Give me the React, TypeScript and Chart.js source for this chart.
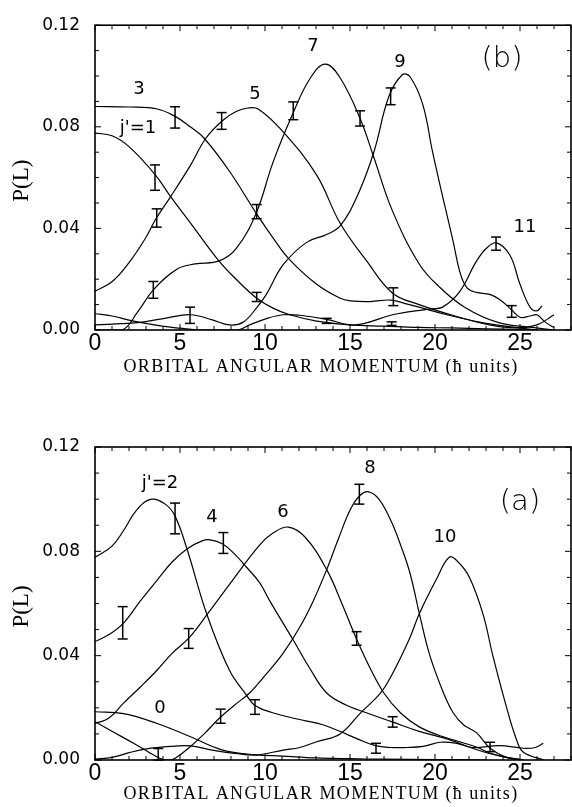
import React, { useEffect, useRef } from 'react';
import { Chart, registerables } from 'chart.js';
Chart.register(...registerables);

type Pt = [number, number];
type Err = [number, number, number];
type Lbl = [number, number, string];

const X_TICKS = [0, 5, 10, 15, 20, 25];
const Y_TICKS = [0, 0.04, 0.08, 0.12];
const X_MAX = 28;
const Y_MAX = 0.12;
const X_TITLE = 'ORBITAL ANGULAR MOMENTUM (\u0127 units)';
const Y_TITLE = 'P(L)';

// ---------- panel (b): odd j' ----------
const b_j1: Pt[] = [[0,0.0775],[1,0.0765],[2,0.0722],[3.56,0.061],[4.45,0.0525],[5.63,0.042],[7.31,0.027],[8.3,0.020],[9.48,0.0127],[10.5,0.0085],[11.46,0.006],[13.04,0.0035],[15,0.002],[17,0.0015],[19,0.001],[21,0.0008],[23,0.0005],[25,0.0002],[26,0]];
const b_j3: Pt[] = [[0,0.088],[2,0.0878],[3.66,0.087],[4.74,0.084],[5.6,0.080],[6.42,0.0755],[7.9,0.0626],[9.48,0.046],[10.5,0.036],[11.46,0.0276],[13.04,0.018],[14.42,0.0125],[15.02,0.0115],[16.2,0.0112],[17.39,0.0118],[18.2,0.0105],[19.07,0.009],[20.7,0.006],[22.7,0.003],[24.7,0.001],[26,0]];
const b_j5: Pt[] = [[0,0.0153],[1,0.019],[2,0.0265],[3,0.0365],[3.56,0.0435],[4.45,0.0525],[5.63,0.065],[6.52,0.0755],[7.51,0.0825],[8.3,0.086],[9.0,0.0874],[9.6,0.087],[11.07,0.078],[13.04,0.061],[14.42,0.042],[16.0,0.027],[17.49,0.0146],[19.07,0.010],[21.44,0.005],[23.2,0.002],[24.7,0.0008],[26,0.002],[27,0.006]];
const b_j7: Pt[] = [[0,0],[1.6,0],[2.5,0.007],[3.46,0.016],[4.84,0.024],[5.9,0.026],[7.31,0.0272],[8.3,0.032],[9.48,0.046],[10.47,0.066],[11.66,0.0855],[12.65,0.099],[13.54,0.1047],[14.4,0.0995],[15.61,0.083],[16.4,0.068],[17.49,0.047],[19.07,0.026],[20.25,0.017],[21.74,0.009],[23.7,0.003],[25.7,0.001],[27,0]];
const b_j9: Pt[] = [[0,0.002],[1.5,0.0025],[2.67,0.003],[4.25,0.0048],[5.63,0.006],[6.9,0.004],[7.9,0.002],[8.7,0.003],[9.48,0.0085],[10.08,0.014],[11.07,0.0257],[12.45,0.0345],[13.63,0.0376],[14.42,0.041],[15.41,0.0525],[16.4,0.070],[17.29,0.092],[18.08,0.1005],[18.53,0.0997],[19.27,0.089],[19.86,0.070],[20.45,0.0525],[21.04,0.0357],[21.5,0.022],[21.9,0.0165],[22.43,0.0148],[23.22,0.014],[23.8,0.012],[24.5,0.008],[25.0,0.005],[25.6,0.0055],[26,0.006],[26.5,0.003],[27,0.001]];
const b_j11: Pt[] = [[0,0.0065],[1,0.0055],[2.27,0.0035],[3.95,0.0015],[5,0.0007],[6.2,0],[8.4,0],[9.09,0.002],[10.08,0.0045],[11.07,0.006],[12.05,0.0058],[13.63,0.0042],[15.02,0.002],[15.8,0.0025],[17.39,0.0058],[18.53,0.0072],[19.76,0.0083],[20.45,0.009],[21.44,0.015],[22.43,0.027],[23.0,0.032],[23.61,0.0343],[24.4,0.0295],[25.0,0.018],[25.59,0.009],[25.98,0.0075],[26.3,0.0095]];
const b_errors: Err[] = [[4.71,0.0837,0.0042],[7.45,0.0823,0.0033],[3.53,0.060,0.005],[3.63,0.0441,0.0036],[3.43,0.0158,0.0033],[5.59,0.0058,0.0032],[9.51,0.0466,0.0028],[9.51,0.013,0.0018],[11.66,0.0863,0.0035],[15.59,0.0833,0.0030],[17.39,0.092,0.0033],[17.55,0.0131,0.0035],[13.63,0.0036,0.001],[17.45,0.0025,0.0007],[23.59,0.034,0.0026],[24.51,0.0073,0.0023]];
const b_labels: Lbl[] = [[2.59,0.0947,'3'],[9.41,0.0928,'5'],[2.53,0.0794,"j'=1"],[12.82,0.1116,'7'],[17.94,0.1054,'9'],[25.29,0.0403,'11']];
const b_tag: Lbl = [23.94, 0.1066, '(b)'];

// ---------- panel (a): even j' ----------
const a_j0: Pt[] = [[0,0.0185],[1.68,0.0178],[3.66,0.014],[5.58,0.009],[7.51,0.0038],[9.48,0.002],[11,0.0015],[13,0.0008],[15,0.0005],[17,0.0003],[20,0.0002],[23,0]];
const a_j2: Pt[] = [[0,0.0777],[1,0.082],[1.68,0.088],[2.47,0.096],[3.33,0.100],[4.15,0.098],[4.71,0.0935],[5.43,0.0805],[6.57,0.056],[7.9,0.0345],[8.9,0.025],[9.39,0.021],[10.4,0.0182],[11.4,0.0165],[12.4,0.015],[13.4,0.0135],[14.4,0.011],[15.4,0.0082],[16.5,0.0055],[17.4,0.0048],[18.3,0.0048],[19.3,0.0052],[20.3,0.0068],[21.2,0.0065],[22.2,0.0048],[23.8,0.0055],[25.2,0.0045],[25.9,0.0048],[26.37,0.0064]];
const a_j4: Pt[] = [[0,0.0454],[0.8,0.048],[1.68,0.0525],[2.67,0.061],[3.66,0.069],[4.55,0.076],[5.43,0.081],[6.3,0.084],[6.77,0.0844],[7.51,0.0828],[8.2,0.079],[8.9,0.074],[9.68,0.068],[10.28,0.061],[11.66,0.046],[12.65,0.035],[13.63,0.0257],[14.8,0.021],[16.0,0.018],[17.49,0.0146],[19.07,0.011],[20.75,0.008],[22.2,0.0045],[23.2,0.0025],[24.2,0.001],[25.2,0]];
const a_j6: Pt[] = [[0,0.014],[0.8,0.016],[1.68,0.0218],[2.67,0.028],[3.66,0.0345],[4.55,0.041],[5.53,0.0468],[6.62,0.056],[8.1,0.069],[9.68,0.0824],[10.47,0.087],[11.36,0.0893],[12.35,0.0855],[13.63,0.073],[14.52,0.060],[15.41,0.046],[16.2,0.035],[16.99,0.0257],[17.98,0.018],[19.07,0.0127],[20.45,0.009],[22.43,0.005],[23.22,0.0027],[24.2,0.001],[25.2,0]];
const a_j8: Pt[] = [[0,0.0147],[1,0.011],[2.27,0.0064],[3.16,0.003],[3.85,0.0006],[4.35,0],[4.74,0.0008],[5.58,0.005],[6.42,0.010],[7.31,0.016],[8.2,0.021],[9.09,0.0257],[10.08,0.033],[11.07,0.041],[12.05,0.051],[12.84,0.061],[13.63,0.073],[14.33,0.085],[15.02,0.096],[15.6,0.1015],[16.1,0.1028],[16.7,0.100],[17.39,0.092],[18.0,0.082],[18.53,0.0716],[19.12,0.055],[19.7,0.040],[20.5,0.0257],[21.08,0.018],[21.67,0.0135],[22.45,0.0104],[23.24,0.0045],[24.2,0.001],[25.2,0]];
const a_j10: Pt[] = [[0,0.0003],[1,0.001],[2,0.0028],[2.96,0.0042],[4.45,0.0052],[5.6,0.0054],[6.9,0.0038],[8.4,0.0024],[9.5,0.0019],[11.07,0.0038],[12.05,0.0048],[13.04,0.007],[14.42,0.010],[15.61,0.018],[16.8,0.0257],[17.49,0.033],[18.53,0.047],[19.07,0.056],[20.06,0.069],[20.85,0.0778],[21.35,0.076],[22.03,0.070],[22.82,0.056],[23.42,0.0395],[24.2,0.0204],[24.8,0.0077],[25.2,0.003],[26.4,0]];
const a_errors: Err[] = [[1.63,0.0526,0.0062],[4.71,0.0926,0.0059],[7.55,0.0832,0.004],[5.51,0.0466,0.0038],[7.39,0.0168,0.0027],[9.41,0.0203,0.0028],[3.72,0.0022,0.0022],[15.55,0.1019,0.0038],[15.39,0.0466,0.0026],[17.51,0.0146,0.002],[16.53,0.0045,0.0019],[23.24,0.005,0.0018]];
const a_labels: Lbl[] = [[3.82,0.1062,"j'=2"],[6.88,0.0932,'4'],[3.82,0.0199,'0'],[11.06,0.0951,'6'],[16.18,0.112,'8'],[20.59,0.0855,'10']];
const a_tag: Lbl = [25.0, 0.0989, '(a)'];

const decorPlugin = {
  id: 'decor',
  afterDatasetsDraw(chart: any, _args: any, opts: any) {
    const { ctx, chartArea: a, scales } = chart;
    const x = scales.x, y = scales.y;
    ctx.save();
    ctx.strokeStyle = '#000';
    ctx.fillStyle = '#000';
    const seg = (x1: number, y1: number, x2: number, y2: number) => {
      ctx.beginPath(); ctx.moveTo(x1, y1); ctx.lineTo(x2, y2); ctx.stroke();
    };
    // frame
    ctx.lineWidth = 1.6;
    ctx.strokeRect(a.left, a.top, a.right - a.left, a.bottom - a.top);
    // inward ticks
    ctx.lineWidth = 1;
    for (let v = 0; v <= X_MAX; v += 1) {
      const px = x.getPixelForValue(v);
      const len = v % 5 === 0 ? 6 : 4;
      seg(px, a.bottom, px, a.bottom - len);
      seg(px, a.top, px, a.top + len);
    }
    for (let i = 0; i <= 12; i++) {
      const py = y.getPixelForValue(i * 0.01);
      const len = i % 4 === 0 ? 6 : 4;
      seg(a.left, py, a.left + len, py);
      seg(a.right, py, a.right - len, py);
    }
    // error bars
    ctx.lineWidth = 1.5;
    (opts.errors as Err[]).forEach(([L, P, h]) => {
      const px = x.getPixelForValue(L);
      const y1 = y.getPixelForValue(P - h), y2 = y.getPixelForValue(P + h);
      seg(px, y1, px, y2);
      seg(px - 5, y1, px + 5, y1);
      seg(px - 5, y2, px + 5, y2);
    });
    // curve labels
    ctx.textAlign = 'center';
    ctx.textBaseline = 'middle';
    ctx.font = '18px "DejaVu Sans"';
    (opts.labels as Lbl[]).forEach(([L, P, t]) => {
      ctx.fillText(t, x.getPixelForValue(L), y.getPixelForValue(P));
    });
    const tag = opts.tag as Lbl;
    ctx.font = '200 29px "DejaVu Sans"';
    ctx.fillText(tag[2], x.getPixelForValue(tag[0]), y.getPixelForValue(tag[1]));
    // axis titles
    ctx.font = '18px "Liberation Serif"';
    try { (ctx as any).letterSpacing = '1.4px'; } catch (e) {}
    ctx.fillText(X_TITLE, (a.left + a.right) / 2 - 12, a.bottom + opts.titleOffset);
    try { (ctx as any).letterSpacing = '0px'; } catch (e) {}
    ctx.save();
    ctx.translate(22, (a.top + a.bottom) / 2 + 3);
    ctx.rotate(-Math.PI / 2);
    ctx.font = '23px "Liberation Serif"';
    ctx.fillText(Y_TITLE, 0, 0);
    ctx.restore();
    ctx.restore();
  },
};

function makeChart(canvas: HTMLCanvasElement, curves: Pt[][], errors: Err[], labels: Lbl[], tag: Lbl, padTop: number, axisH: number, titleOffset: number) {
  return new Chart(canvas, {
    type: 'line',
    data: {
      datasets: curves.map((c) => ({
        data: c.map(([L, P]) => ({ x: L, y: P })),
        borderColor: '#000',
        borderWidth: 1.2,
        pointRadius: 0,
        fill: false,
        tension: 0.4,
      })),
    },
    options: {
      animation: false,
      responsive: false,
      devicePixelRatio: 1,
      layout: { padding: { top: padTop, right: 1, left: 0, bottom: 0 } },
      plugins: {
        legend: { display: false },
        tooltip: { enabled: false },
        decor: { errors, labels, tag, titleOffset },
      } as any,
      scales: {
        x: {
          type: 'linear',
          min: 0,
          max: X_MAX,
          grid: { display: false, drawTicks: false },
          border: { display: false },
          afterBuildTicks: (s: any) => { s.ticks = X_TICKS.map((v) => ({ value: v })); },
          afterFit: (s: any) => { s.height = axisH; },
          ticks: {
            padding: 0,
            color: '#000',
            maxRotation: 0,
            autoSkip: false,
            font: { family: '"Liberation Sans"', size: 23 },
            callback: (v: any) => String(v),
          },
        },
        y: {
          type: 'linear',
          min: 0,
          max: Y_MAX,
          grid: { display: false, drawTicks: false },
          border: { display: false },
          afterBuildTicks: (s: any) => { s.ticks = Y_TICKS.map((v) => ({ value: v })); },
          afterFit: (s: any) => { s.width = 95; },
          ticks: {
            padding: 15,
            color: '#000',
            font: { family: '"DejaVu Sans"', size: 17 },
            callback: (v: any) => Number(v).toFixed(2),
          },
        },
      },
    },
    plugins: [decorPlugin],
  } as any);
}

export default function App() {
  const topRef = useRef<HTMLCanvasElement>(null);
  const botRef = useRef<HTMLCanvasElement>(null);
  useEffect(() => {
    const c1 = makeChart(topRef.current!, [b_j1, b_j3, b_j5, b_j7, b_j9, b_j11], b_errors, b_labels, b_tag, 17, 70, 37);
    const c2 = makeChart(botRef.current!, [a_j0, a_j2, a_j4, a_j6, a_j8, a_j10], a_errors, a_labels, a_tag, 47, 47, 34);
    return () => { c1.destroy(); c2.destroy(); };
  }, []);
  return (
    <div style={{ position: 'absolute', left: 0, top: 0, width: 572, height: 807, background: '#fff' }}>
      <canvas ref={topRef} width={572} height={400} style={{ position: 'absolute', left: 0, top: 0, display: 'block' }} />
      <canvas ref={botRef} width={572} height={407} style={{ position: 'absolute', left: 0, top: 400, display: 'block' }} />
    </div>
  );
}
